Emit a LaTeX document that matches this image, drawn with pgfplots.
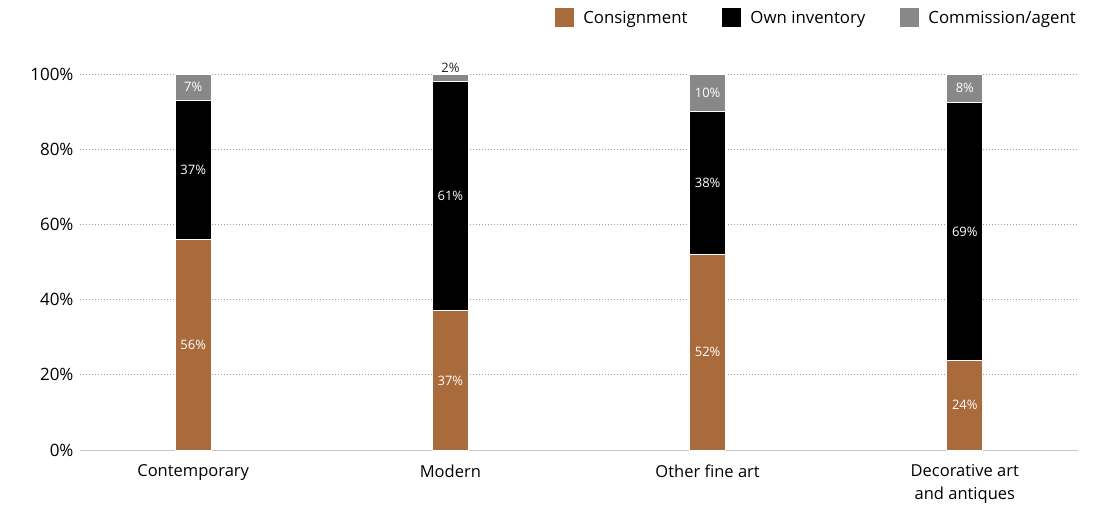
\documentclass[border=0pt]{standalone}
\usepackage{fontspec}
\setmainfont{Open Sans}
\usepackage{pgfplots}
\pgfplotsset{compat=1.18}
\definecolor{cons}{HTML}{A96B3C}
\definecolor{comm}{HTML}{888888}
\begin{document}
\begin{tikzpicture}
\begin{axis}[
  at={(0,0)}, anchor=south west,
  scale only axis, width=998pt, height=376pt,
  xmin=-0.44, xmax=3.44, ymin=0, ymax=100,
  ybar stacked, bar width=36pt,
  axis line style={draw=none},
  major tick length=0pt,
  xtick={0,1,2,3},
  xticklabels={Contemporary, Modern, Other fine art, {Decorative art\\and antiques}},
  xticklabel style={align=center, font=\fontsize{16.5}{23}\selectfont, yshift=-11pt},
  ytick={20,40,60,80,100},
  extra y ticks={0},
  extra y tick style={grid style={solid, draw=gray!45, line width=1pt, dash pattern=}},
  ymajorgrids,
  grid style={draw=gray!75, dash pattern=on 1pt off 2pt, line width=0.7pt},
  yticklabel={\pgfmathprintnumber{\tick}\%},
  yticklabel style={font=\fontsize{17}{20}\selectfont, xshift=-3pt},
  /pgf/number format/assume math mode=true,
  clip=false,
  legend style={draw=none, fill=none, at={(1.003,1.149)}, anchor=east,
    legend columns=-1, font=\fontsize{16.8}{20}\selectfont,
    /tikz/every even column/.append style={column sep=33pt}},
  visualization depends on=rawy \as \rawy,
  nodes near coords={\pgfmathprintnumber[fixed,precision=0]{\rawy}\%},
  every node near coord/.append style={anchor=center, text=white,
    font=\fontsize{13}{15}\selectfont},
]
\addplot[fill=cons, draw=white, line width=0.8pt,
  legend image code/.code={\fill[cons, draw=none] (0pt,-9.5pt) rectangle (19pt,9.5pt); \path[draw=none, fill=none] (0pt,0pt) -- (26pt,0pt);}]
  coordinates {(0,56) (1,37) (2,52) (3,23.8)};
\addplot[fill=black, draw=white, line width=0.8pt,
  legend image code/.code={\fill[black, draw=none] (0pt,-9.5pt) rectangle (19pt,9.5pt); \path[draw=none, fill=none] (0pt,0pt) -- (26pt,0pt);}]
  coordinates {(0,37) (1,61) (2,38) (3,68.6)};
\addplot[fill=comm, draw=white, line width=0.8pt,
  nodes near coords={\ifdim\rawy pt<3pt\color{black!85}\fi\pgfmathprintnumber[fixed,precision=0]{\rawy}\%},
  every node near coord/.append style={shift={(axis direction cs:0,{ifthenelse(\rawy<3,2.6,0)})}},
  legend image code/.code={\fill[comm, draw=none] (0pt,-9.5pt) rectangle (19pt,9.5pt); \path[draw=none, fill=none] (0pt,0pt) -- (26pt,0pt);}]
  coordinates {(0,7) (1,2) (2,10) (3,7.6)};
\legend{Consignment, Own inventory, Commission/agent}
\end{axis}
\pgfresetboundingbox
\useasboundingbox (-80pt,-57pt) rectangle (1013pt,450pt);
\end{tikzpicture}
\end{document}
